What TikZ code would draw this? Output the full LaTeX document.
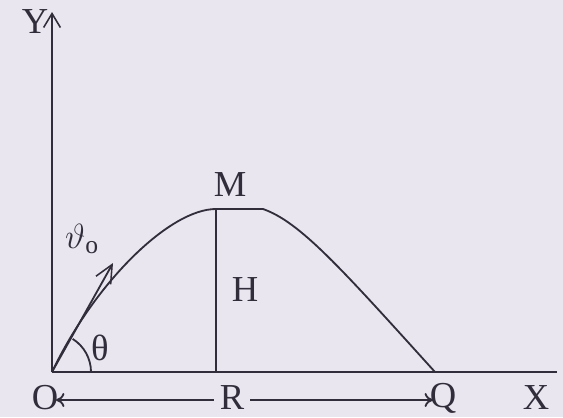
\documentclass[tikz,border=0pt]{standalone}
\usepackage{fontspec}
\setmainfont{Liberation Serif}
\usetikzlibrary{arrows.meta}
\definecolor{paper}{RGB}{234,230,240}
\definecolor{ink}{RGB}{50,45,58}
\begin{document}
\begin{tikzpicture}[x=0.025cm, y=0.025cm,
    line/.style={ink, line width=1.3pt},
    lbl/.style={ink, inner sep=0pt, font=\fontsize{26}{30}\selectfont},
    barb/.style={-{Straight Barb[length=0.35cm, width=0.42cm, line width=1.1pt]}}]
    % 0. Nền giấy
    \fill[paper] (0,0) rectangle (563,417);
    \useasboundingbox (0,0) rectangle (563,417);

    % 1. Các điểm chính
    \coordinate (O) at (52,45);
    \coordinate (Ytop) at (52,405);
    \coordinate (Xend) at (557,45);
    \coordinate (M) at (216,208);
    \coordinate (P) at (263,208);
    \coordinate (Q) at (435,45);
    \coordinate (Mfoot) at (216,45);
    \coordinate (V) at (113,154);

    % 2. Trục toạ độ
    \draw[line, barb] (O) -- (Ytop);
    \draw[line] (O) -- (Xend);

    % 3. Quỹ đạo
    \draw[line] (O) .. controls (95,135) and (170,208) .. (M) -- (P)
        .. controls (300,195) and (340,150) .. (Q);

    % 4. Độ cao cực đại H
    \draw[line] (M) -- (Mfoot);

    % 5. Vận tốc ban đầu và góc
    \draw[line, -{Straight Barb[length=0.45cm, width=0.42cm, line width=1.1pt]}] (O) -- (V);
    \draw[line] ([shift={(0:39)}]O) arc[start angle=0, end angle=58, radius=39];

    % 6. Nhãn
    \node[lbl] (Y) at (35,395) {Y};
    \node[lbl] (Mlbl) at (230,232) {M};
    \node[lbl] (H) at (245,127) {H};
    \node[lbl] (v0) at (82,178) {$\vartheta_{\mathrm{o}}$};
    \node[lbl] (th) at (100,69) {θ};
    \node[lbl] (Olbl) at (45,19) {O};
    \node[lbl] (Qlbl) at (443,19) {Q};
    \node[lbl] (X) at (536,19) {X};
    \node[lbl, inner xsep=4pt] (R) at (232,19) {R};

    % 7. Tầm xa R
    \coordinate (Rl) at (56,17);
    \coordinate (Rr) at (433,17);
    \draw[line, -{To[length=6pt, width=10pt]}] (R.west |- Rl) -- (Rl);
    \draw[line, -{To[length=6pt, width=10pt]}] (R.east |- Rr) -- (Rr);
\end{tikzpicture}
\end{document}
